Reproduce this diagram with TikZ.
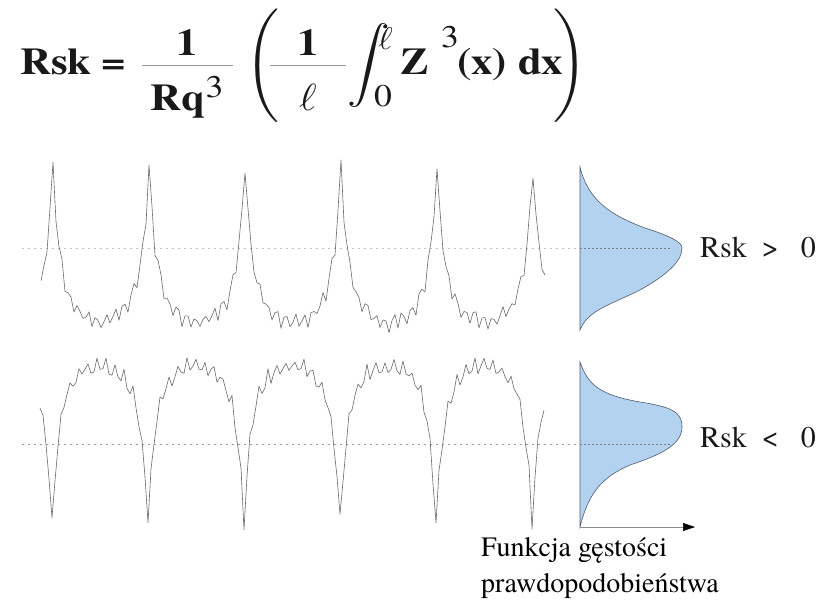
\documentclass[tikz,border=0pt]{standalone}
\usepackage{fontspec}
\IfFontExistsTF{texgyretermes-regular.otf}
  {\setmainfont{texgyretermes}[Extension=.otf, UprightFont=*-regular, BoldFont=*-bold,
    ItalicFont=*-italic, BoldItalicFont=*-bolditalic]}
  {\setmainfont{Liberation Serif}}
\usepackage{amsmath}
\usepackage{graphicx}
\usetikzlibrary{arrows.meta}
\definecolor{pdfblue}{RGB}{178,210,240}
\definecolor{pdfline}{RGB}{80,92,110}
\definecolor{wavegray}{RGB}{105,105,105}
\definecolor{meangray}{RGB}{195,195,195}
\definecolor{rulegray}{RGB}{150,150,150}
\definecolor{textgray}{RGB}{25,25,25}
\tikzset{
  formula/.style={font=\rmfamily\fontsize{24.88}{30}\selectfont, anchor=base west, inner sep=0pt, text=textgray},
  rsklabel/.style={font=\rmfamily\fontsize{30}{36}\selectfont, anchor=west, inner sep=0pt, text=textgray},
  pdflabel/.style={font=\rmfamily\fontsize{28}{36}\selectfont, align=left, anchor=north west,
    inner sep=0pt, text=black},
  wave/.style={draw=wavegray, line width=0.6pt, line join=round},
  meanline/.style={draw=meangray, dash pattern=on 2pt off 4pt, line width=0.6pt},
  innermean/.style={draw=pdfline!80, dash pattern=on 2pt off 2pt, line width=0.6pt},
  pdfshape/.style={draw=pdfline, fill=pdfblue, line width=0.6pt},
  axisarrow/.style={-{Triangle[length=12pt,width=8pt,color=black]}, draw=black!45, line width=0.6pt},
  declare function={dist(\t,\c)=mod(\t-\c+48,96)-48; ripple(\t)=7*sin(40*mod(\t,9));}
}
\newcommand{\fml}[1]{\scalebox{1.72}[1.52]{$\displaystyle #1$}}
\newcommand{\numone}{\raisebox{-4pt}{\textbf{1}}}
\newcommand{\lowstrut}{\rule{0pt}{1.05em}}
\pgfmathsetseed{12}

\begin{document}
\begin{tikzpicture}[x=1pt,y=-1pt]
  \useasboundingbox (0,0) rectangle (822,604);

  \node[formula] (rsk) at (20,75) {\fml{\textbf{Rsk}}};
  \node[formula] (equals) at (101,75) {\fml{\textbf{=}}};
  \node[formula] (fracrq) at (140,75) {\fml{{\color{rulegray}\frac{\color{textgray}\numone}
    {\color{textgray}\lowstrut\hspace{5pt}\textbf{Rq}^{\text{3}}\hspace{5pt}}}}};
  \node[formula] (lparen) at (245,75) {\fml{\Biggl(}};
  \node[formula] (fracl) at (268,75) {\fml{{\color{rulegray}\frac{\color{textgray}\numone}
    {\color{textgray}\lowstrut\hspace{16.8pt}\ell\hspace{16.8pt}}}}};
  \node[formula] (integral) at (347,75) {\fml{\int}};
  \node[formula] (upper) at (378,50) {\fml{\scriptstyle\ell}};
  \node[formula] (lower) at (374,107) {\fml{\scriptstyle\text{0}}};
  \node[formula] (zed) at (400,75) {\fml{\textbf{Z}}};
  \node[formula] (cube) at (441,48) {\fml{\scriptstyle\text{3}}};
  \node[formula] (argx) at (457,75) {\fml{\textbf{(x)}}};
  \node[formula] (dx) at (518,75) {\fml{\textbf{dx}}};
  \node[formula, anchor=base east] (rparen) at (588,75) {\fml{\Biggr)}};

  \draw[meanline] (22,248) -- (580,248);
  \draw[meanline, draw=black!40] (22,444) -- (580,444);

  \draw[wave] plot[domain=41:545, samples=169]
    (\x, {322 - 14*cos(dist(\x,53)*180/96)^2 - 140*exp(-abs(dist(\x,53))/7.6) + ripple(\x) + 4*rand});
  \draw[wave] plot[domain=40:544, samples=169]
    (\x, {366 + 12*cos(dist(\x,52)*180/96)^2 + 145*exp(-abs(dist(\x,52))/7.6) + ripple(\x) + 4*rand});

  \draw[pdfshape] (580,167) .. controls (588,200) and (610,215) .. (645,228)
    .. controls (670,236) and (682,242) .. (682,248)
    .. controls (682,262) and (665,276) .. (640,290)
    .. controls (610,305) and (588,310) .. (580,330) -- cycle;
  \draw[pdfshape] (580,362) .. controls (588,385) and (600,395) .. (640,402)
    .. controls (672,407) and (682,412) .. (682,427)
    .. controls (682,445) and (660,455) .. (630,465)
    .. controls (600,478) and (588,495) .. (580,527) -- cycle;
  \draw[innermean] (580,248) -- (672,248);
  \draw[innermean] (580,444) -- (670,444);

  \coordinate (origin) at (580,527);
  \coordinate (axisend) at (695,527);
  \draw[axisarrow] (origin) -- (axisend);

  \node[rsklabel] (skewpos) at (700,247) {Rsk\hspace{15pt}>\hspace{22pt}0};
  \node[rsklabel] (skewneg) at (700,437) {Rsk\hspace{15pt}<\hspace{22pt}0};
  \node[pdflabel] (density) at (481,537) {Funkcja gęstości\\prawdopodobieństwa};
\end{tikzpicture}
\end{document}
